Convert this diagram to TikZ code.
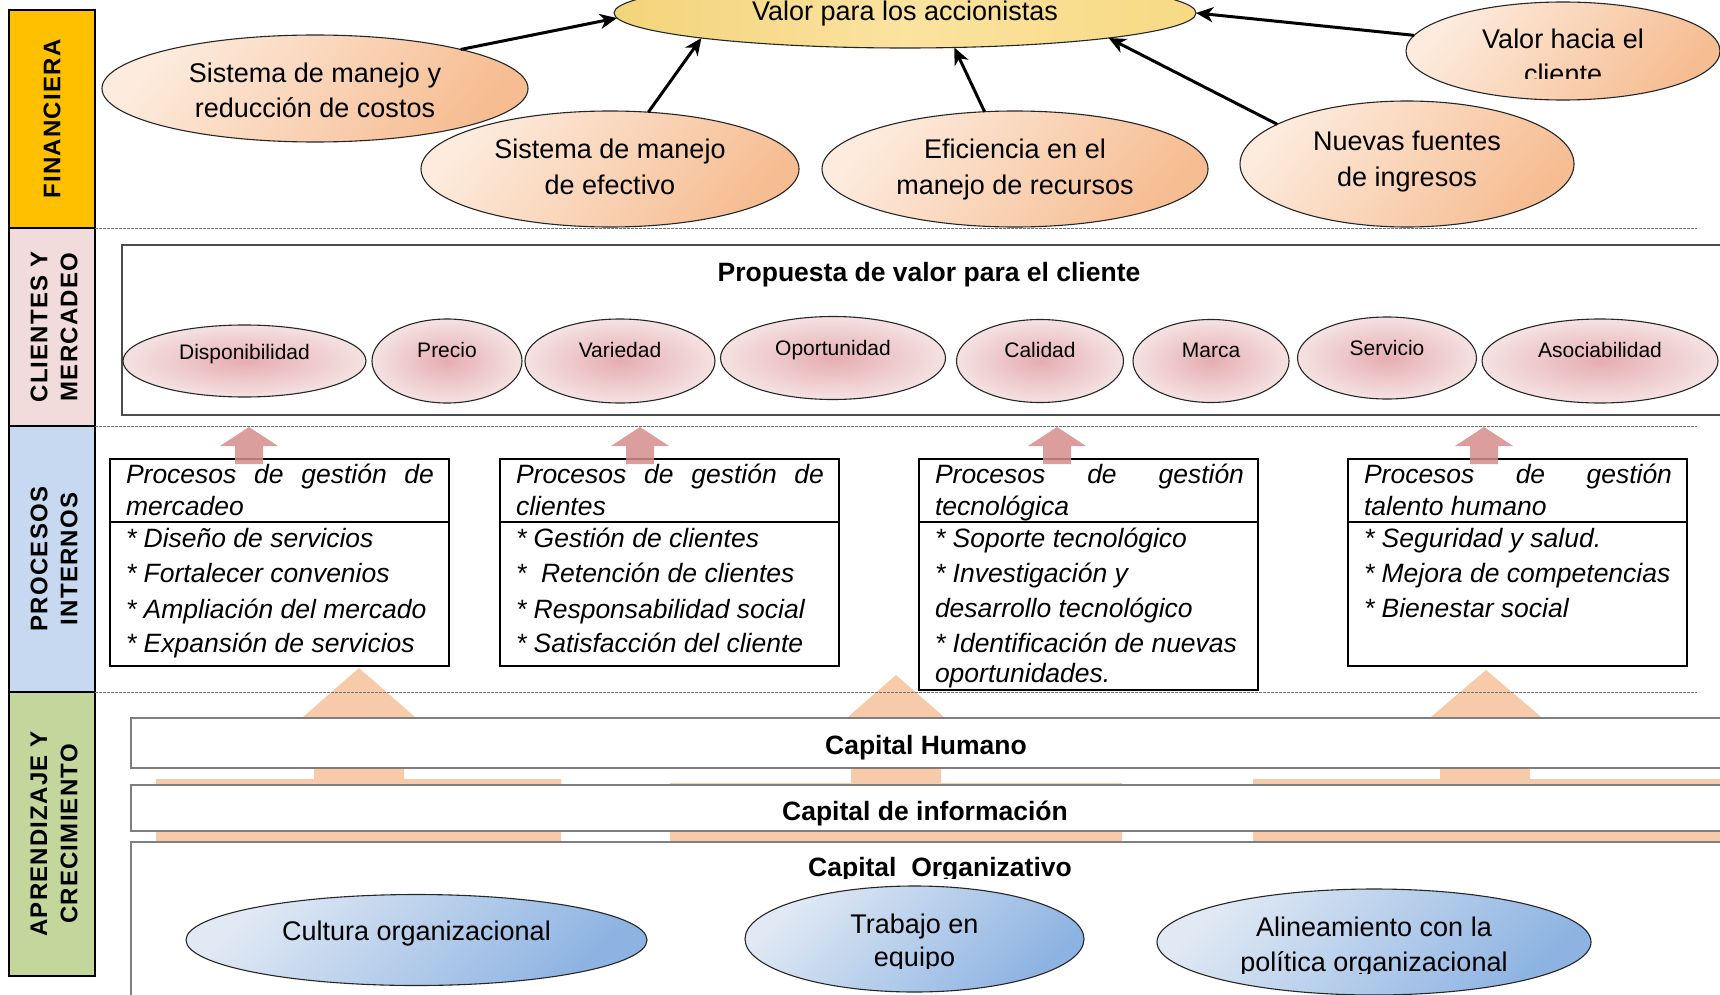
\documentclass[tikz,border=0pt]{standalone}
\usepackage{fontspec}
\setmainfont{Liberation Sans}
\newfontfamily\bandfont[LetterSpace=5]{Liberation Sans}
\usetikzlibrary{shapes.geometric,arrows.meta,calc}

\definecolor{finband}{HTML}{FFC000}
\definecolor{cliband}{HTML}{F2DCDB}
\definecolor{proband}{HTML}{C6D9F1}
\definecolor{apband}{HTML}{C3D69B}
\definecolor{peachlt}{HTML}{FDEBDD}
\definecolor{peachdk}{HTML}{F6BD92}
\definecolor{goldl}{HTML}{F3D47A}
\definecolor{goldm}{HTML}{FBE3A0}
\definecolor{goldr}{HTML}{F8DA84}
\definecolor{pinkin}{HTML}{E6ADB1}
\definecolor{pinkout}{HTML}{F5E2E2}
\definecolor{bluelt}{HTML}{E0E9F4}
\definecolor{bluedk}{HTML}{8DB3E2}
\definecolor{redarrow}{HTML}{D68C8D}
\definecolor{peacharrow}{HTML}{F7CBA9}
\definecolor{framegray}{HTML}{7F7F7F}

% one line stretched to a given width (justified line)
\newcommand{\spreadline}[2]{\makebox[#1][s]{#2}}

\begin{document}
\begin{tikzpicture}[x=1pt,y=-1pt,
  every node/.style={inner sep=0pt, outer sep=0pt},
  bandbox/.style={draw=black, line width=2.5pt, rectangle, anchor=north west, minimum width=86},
  bandlabel/.style={rotate=90, font=\bandfont\bfseries\fontsize{24}{30}\selectfont},
  sepline/.style={draw=black!55, line width=1pt, dash pattern=on 2.5pt off 1.5pt},
  finell/.style={ellipse, draw=black!85, line width=1.1pt, left color=peachlt, right color=peachdk, shading angle=50},
  fintext/.style={anchor=base, font=\fontsize{27}{32}\selectfont},
  valell/.style={ellipse, draw=black!85, line width=1.1pt, left color=goldl, right color=goldr, middle color=goldm},
  toval/.style={draw=black, line width=3pt, -{Stealth[length=17pt,width=15pt,inset=5pt]}},
  pinkell/.style={ellipse, draw=black!85, line width=1.1pt, inner color=pinkin, outer color=pinkout},
  pinktext/.style={anchor=base, font=\fontsize{21}{25}\selectfont},
  titletext/.style={anchor=base, font=\bfseries\fontsize{26.5}{30}\selectfont},
  propbox/.style={draw=black!70, line width=1.5pt, fill=white, rectangle, anchor=north west},
  procbox/.style={draw=black, line width=2.5pt, fill=white, rectangle, anchor=north west, minimum width=339},
  procline/.style={draw=black, line width=2.5pt},
  proctext/.style={anchor=base west, font=\itshape\fontsize{26.5}{30}\selectfont},
  redup/.style={fill=redarrow, fill opacity=0.85},
  peachup/.style={fill=peacharrow},
  capbox/.style={draw=framegray, line width=2pt, fill=white, rectangle, anchor=north west, minimum width=1600},
  blueell/.style={ellipse, draw=black!85, line width=1.1pt, left color=bluelt, right color=bluedk, shading angle=45},
  bluetext/.style={anchor=base, font=\fontsize{27}{32}\selectfont},
]
\useasboundingbox (0,0) rectangle (1720,995);
\fill[white] (0,0) rectangle (1720,995);
\clip (0,0) rectangle (1720,995);

% ---------- base arrows of the learning layer (behind the capital bars) ----------
\fill[peachup] (359,668) -- (447,745) -- (404,745) -- (404,779) -- (561,779) -- (561,848)
  -- (156,848) -- (156,779) -- (314,779) -- (314,745) -- (271,745) -- cycle;
\fill[peachup] (896,675) -- (976,745) -- (941,745) -- (941,783) -- (1122,783) -- (1122,848)
  -- (670,848) -- (670,783) -- (851,783) -- (851,745) -- (816,745) -- cycle;
\fill[peachup] (1486,670) -- (1574,745) -- (1530,745) -- (1530,779) -- (1722,779) -- (1722,848)
  -- (1253,848) -- (1253,779) -- (1440,779) -- (1440,745) -- (1398,745) -- cycle;

% ---------- perspective bands ----------
\node[bandbox, fill=finband, minimum height=218] (bfin) at (9,10) {};
\node[bandbox, fill=cliband, minimum height=198] (bcli) at (9,228) {};
\node[bandbox, fill=proband, minimum height=266] (bpro) at (9,426) {};
\node[bandbox, fill=apband,  minimum height=284] (bapr) at (9,692) {};

\node[bandlabel] (lfin) at (bfin.center) {FINANCIERA};
\node[bandlabel] (lcli1) at ([xshift=-13pt]bcli.center) {CLIENTES Y};
\node[bandlabel] (lcli2) at ([xshift=17pt]bcli.center) {MERCADEO};
\node[bandlabel] (lpro1) at ([xshift=-13pt]bpro.center) {PROCESOS};
\node[bandlabel] (lpro2) at ([xshift=17pt]bpro.center) {INTERNOS};
\node[bandlabel] (lapr1) at ([xshift=-13pt]bapr.center) {APRENDIZAJE Y};
\node[bandlabel] (lapr2) at ([xshift=17pt]bapr.center) {CRECIMIENTO};

% separators between perspectives
\coordinate (s1a) at (95,228);  \coordinate (s1b) at (1697,228);
\coordinate (s2a) at (95,426);  \coordinate (s2b) at (1697,426);
\coordinate (s3a) at (95,692);  \coordinate (s3b) at (1697,692);
\draw[sepline] (s1a) -- (s1b);
\draw[sepline] (s2a) -- (s2b);
\draw[sepline] (s3a) -- (s3b);

% ---------- financial perspective ----------
\node[finell, minimum width=426, minimum height=107] (fa) at (315,88.5) {};
\node[finell, minimum width=378, minimum height=116] (fb) at (610,169) {};
\node[finell, minimum width=386, minimum height=116] (fc) at (1015,169) {};
\node[finell, minimum width=334, minimum height=126] (fd) at (1407,164) {};
\node[finell, minimum width=314, minimum height=98]  (fe) at (1563,51) {};
\node[valell, minimum width=582, minimum height=70]  (val) at (905,13) {};

\node[fintext] (tval) at (905,21) {Valor para los accionistas};
\node[fintext] (tfa1) at (315,83) {Sistema de manejo y};
\node[fintext] (tfa2) at (315,118) {reducción de costos};
\node[fintext] (tfb1) at (610,159) {Sistema de manejo};
\node[fintext] (tfb2) at (610,194) {de efectivo};
\node[fintext] (tfc1) at (1015,159) {Eficiencia en el};
\node[fintext] (tfc2) at (1015,194) {manejo de recursos};
\node[fintext] (tfd1) at (1407,151) {Nuevas fuentes};
\node[fintext] (tfd2) at (1407,186) {de ingresos};
\node[fintext] (tfe1) at (1563,49) {Valor hacia el};
\begin{scope}
  \clip (1400,60) rectangle (1720,79);
  \node[fintext] (tfe2) at (1563,84) {cliente};
\end{scope}

\draw[toval] (fa.15)   -- (val.181);
\draw[toval] (fb.56)   -- (val.187);
\draw[toval] (fc.118)  -- (val.-35);
\draw[toval] (fd.163)  -- (val.-7.4);
\draw[toval] (fe.174)  -- (val.0);

% ---------- customer perspective ----------
\node[propbox, minimum width=1610, minimum height=170] (prop) at (122,245) {};
\node[titletext] (tprop) at (929,281) {Propuesta de valor para el cliente};

\node[pinkell, minimum width=243, minimum height=72] (pdisp) at (244.5,361) {};
\node[pinkell, minimum width=150, minimum height=84] (pprec) at (447,361) {};
\node[pinkell, minimum width=190, minimum height=84] (pvar)  at (620,361) {};
\node[pinkell, minimum width=225, minimum height=83] (popor) at (833,358) {};
\node[pinkell, minimum width=167, minimum height=83] (pcal)  at (1040,361) {};
\node[pinkell, minimum width=156, minimum height=83] (pmar)  at (1211,361) {};
\node[pinkell, minimum width=179, minimum height=82] (pserv) at (1387,358) {};
\node[pinkell, minimum width=236, minimum height=84] (pasoc) at (1600,361) {};

\node[pinktext] (tdisp) at (244.5,359) {Disponibilidad};
\node[pinktext] (tprec) at (447,357) {Precio};
\node[pinktext] (tvar)  at (620,357) {Variedad};
\node[pinktext] (topor) at (833,355) {Oportunidad};
\node[pinktext] (tcal)  at (1040,357) {Calidad};
\node[pinktext] (tmar)  at (1211,357) {Marca};
\node[pinktext] (tserv) at (1387,355) {Servicio};
\node[pinktext] (tasoc) at (1600,357) {Asociabilidad};

% ---------- internal processes ----------
\node[procbox, minimum height=207] (pb1) at (110,459) {};
\node[procbox, minimum height=207] (pb2) at (500,459) {};
\node[procbox, minimum height=231] (pb3) at (919,459) {};
\node[procbox, minimum height=207] (pb4) at (1348,459) {};
\foreach \b in {pb1,pb2,pb3,pb4}{
  \draw[procline] ([yshift=-63pt]\b.north west) -- ([yshift=-63pt]\b.north east);
}

% process headers and items
\node[proctext] (h1a) at (126,483) {\spreadline{308pt}{Procesos de gestión de}};
\node[proctext] (h1b) at (126,515) {mercadeo};
\node[proctext] (i1a) at (126,547) {* Diseño de servicios};
\node[proctext] (i1b) at (126,582) {* Fortalecer convenios};
\node[proctext] (i1c) at (126,618) {* Ampliación del mercado};
\node[proctext] (i1d) at (126,652) {* Expansión de servicios};

\node[proctext] (h2a) at (516,483) {\spreadline{308pt}{Procesos de gestión de}};
\node[proctext] (h2b) at (516,515) {clientes};
\node[proctext] (i2a) at (516,547) {* Gestión de clientes};
\node[proctext] (i2b) at (516,582) {*\ \ Retención de clientes};
\node[proctext] (i2c) at (516,618) {* Responsabilidad social};
\node[proctext] (i2d) at (516,652) {* Satisfacción del cliente};

\node[proctext] (h3a) at (935,483) {\spreadline{309pt}{Procesos de gestión}};
\node[proctext] (h3b) at (935,515) {tecnológica};
\node[proctext] (i3a) at (935,547) {* Soporte tecnológico};
\node[proctext] (i3b) at (935,582) {* Investigación y};
\node[proctext] (i3c) at (935,617) {desarrollo tecnológico};
\node[proctext] (i3d) at (935,652) {* Identificación de nuevas};
\node[proctext] (i3e) at (935,682) {oportunidades.};

\node[proctext] (h4a) at (1364,483) {\spreadline{308pt}{Procesos de gestión}};
\node[proctext] (h4b) at (1364,515) {talento humano};
\node[proctext] (i4a) at (1364,547) {* Seguridad y salud.};
\node[proctext] (i4b) at (1364,582) {* Mejora de competencias};
\node[proctext] (i4c) at (1364,617) {* Bienestar social};

% upward arrows from processes towards the customer layer
\foreach \cx in {249,640,1057,1484}{
  \fill[redup] (\cx,427) -- ({\cx+29},446) -- ({\cx+14},446) -- ({\cx+14},464)
    -- ({\cx-14},464) -- ({\cx-14},446) -- ({\cx-29},446) -- cycle;
}

% ---------- learning and growth ----------
\node[capbox, minimum height=50] (chum) at (131,718) {};
\node[capbox, minimum height=46] (cinf) at (131,785) {};
\node[capbox, minimum height=170] (corg) at (131,842) {};
\node[titletext] (tchum) at (926,754) {Capital Humano};
\node[titletext] (tcinf) at (925,820) {Capital de información};
\begin{scope}
  \clip (700,850) rectangle (1200,878);
  \node[titletext] (tcorg) at (940,876) {Capital\ \ Organizativo};
\end{scope}

\node[blueell, minimum width=461, minimum height=91]  (bcult) at (416.5,940) {};
\node[blueell, minimum width=339, minimum height=106] (btrab) at (914.5,939) {};
\node[blueell, minimum width=434, minimum height=106] (balin) at (1374,942) {};

\node[bluetext] (tcult) at (416.5,940) {Cultura organizacional};
\node[bluetext] (ttrab1) at (914.5,933) {Trabajo en};
\begin{scope}
  \clip (800,940) rectangle (1030,968);
  \node[bluetext] (ttrab2) at (914.5,966) {equipo};
\end{scope}
\node[bluetext] (talin1) at (1374,936) {Alineamiento con la};
\begin{scope}
  \clip (1180,945) rectangle (1570,973);
  \node[bluetext] (talin2) at (1374,971) {política organizacional};
\end{scope}
\end{tikzpicture}
\end{document}
